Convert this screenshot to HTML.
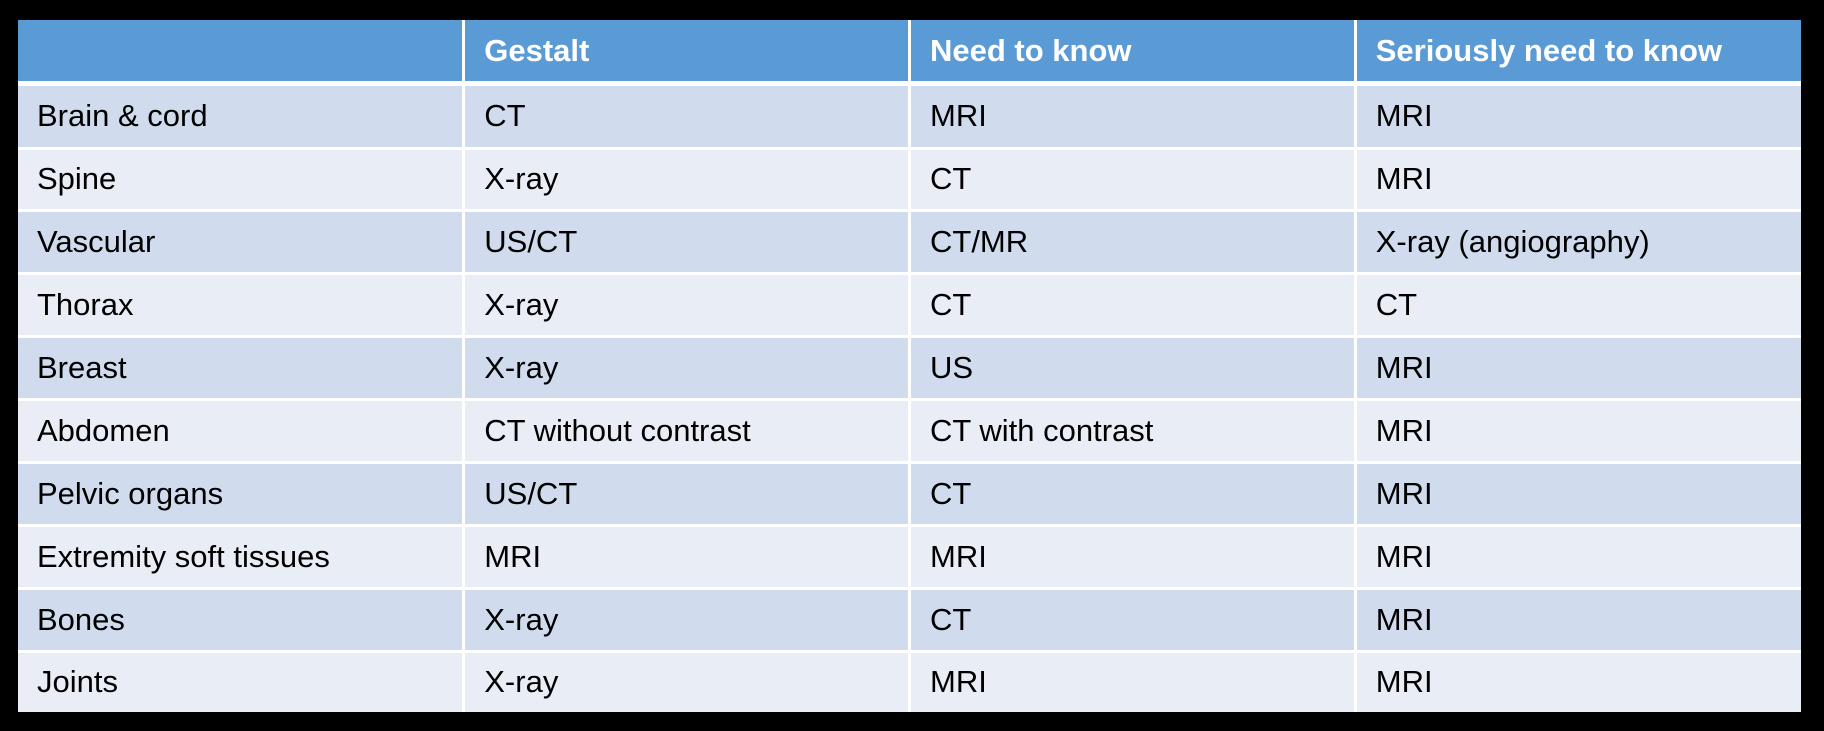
<!DOCTYPE html>
<html><head><meta charset="utf-8"><style>
html,body{margin:0;padding:0;background:#000;width:1824px;height:731px;overflow:hidden}
table{position:absolute;left:18px;top:20px;width:1783px;height:692px;border-collapse:collapse;table-layout:fixed;font-family:"Liberation Sans",sans-serif;font-size:31px;color:#000}
td,th{border:3px solid #fff;padding:0 0 0 19px;text-align:left;white-space:nowrap;overflow:hidden}
th{background:#5B9BD5;color:#fff;font-weight:bold;height:61px;border-bottom:5px solid #fff;border-top:none}
tr:first-child th:first-child{border-left:none}
tr:first-child th:last-child{border-right:none}
td:first-child{border-left:none}td:last-child{border-right:none}
tr:last-child td{border-bottom:none}
tr.o td{background:#D0DCEE}
tr.e td{background:#E9EEF6}
</style></head><body>
<table>
<tr><th></th><th>Gestalt</th><th>Need to know</th><th>Seriously need to know</th></tr>
<tr class="o"><td>Brain &amp; cord</td><td>CT</td><td>MRI</td><td>MRI</td></tr>
<tr class="e"><td>Spine</td><td>X-ray</td><td>CT</td><td>MRI</td></tr>
<tr class="o"><td>Vascular</td><td>US/CT</td><td>CT/MR</td><td>X-ray (angiography)</td></tr>
<tr class="e"><td>Thorax</td><td>X-ray</td><td>CT</td><td>CT</td></tr>
<tr class="o"><td>Breast</td><td>X-ray</td><td>US</td><td>MRI</td></tr>
<tr class="e"><td>Abdomen</td><td>CT without contrast</td><td>CT with contrast</td><td>MRI</td></tr>
<tr class="o"><td>Pelvic organs</td><td>US/CT</td><td>CT</td><td>MRI</td></tr>
<tr class="e"><td>Extremity soft tissues</td><td>MRI</td><td>MRI</td><td>MRI</td></tr>
<tr class="o"><td>Bones</td><td>X-ray</td><td>CT</td><td>MRI</td></tr>
<tr class="e"><td>Joints</td><td>X-ray</td><td>MRI</td><td>MRI</td></tr>
</table>
</body></html>
